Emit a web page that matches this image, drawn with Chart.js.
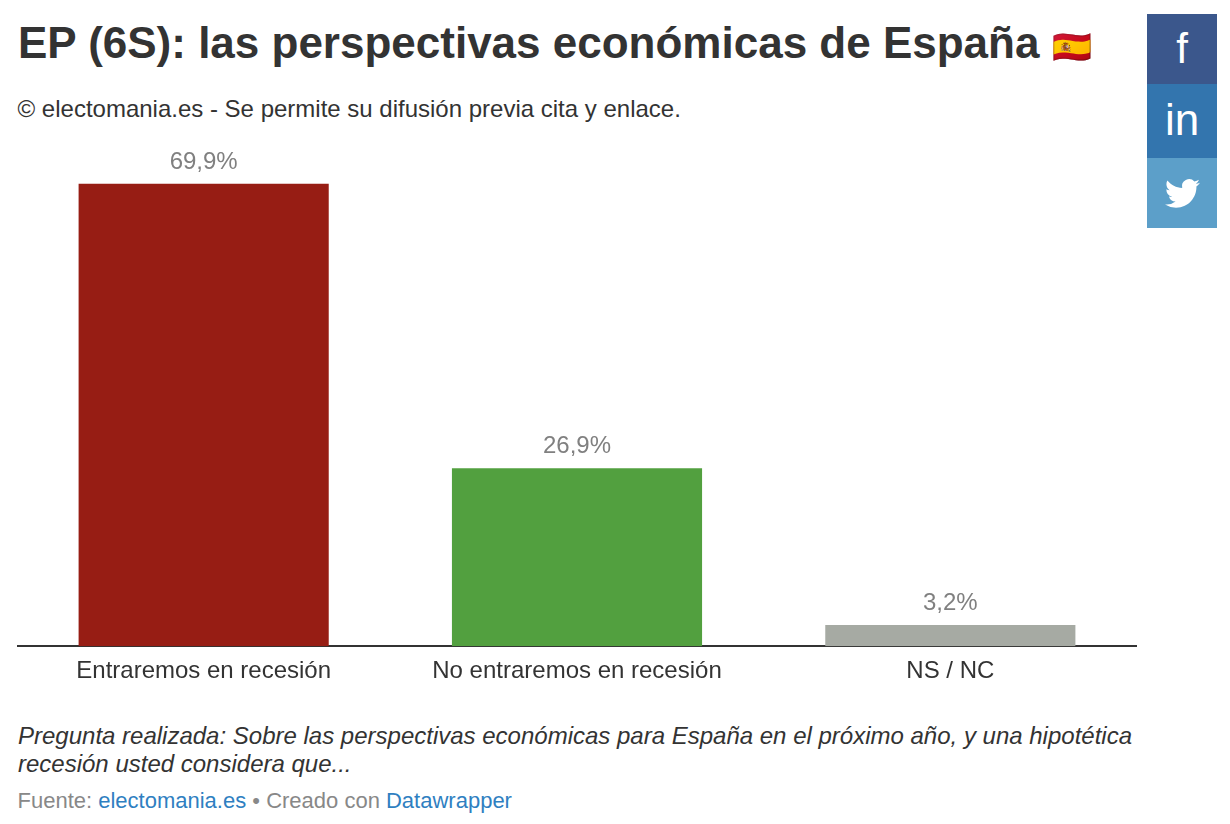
<!DOCTYPE html>
<html>
<head>
<meta charset="utf-8">
<script src="https://cdn.jsdelivr.net/npm/chart.js@4"></script>
<style>
  body { margin: 0; background: #fff; font-family: "Liberation Sans", Arial, sans-serif; color: #333; width: 1230px; height: 824px; position: relative; overflow: hidden; }
  h1 { position: absolute; left: 18px; top: 15px; margin: 0; font-size: 44px; line-height: 56px; font-weight: 700; white-space: nowrap; }
  .intro { position: absolute; left: 17.5px; top: 95px; font-size: 24px; line-height: 28px; white-space: nowrap; }
  .chart-box { position: absolute; left: 17px; top: 140px; width: 1120px; height: 557px; }
  .question { position: absolute; left: 18px; top: 722px; width: 1140px; font-size: 24px; line-height: 28px; font-style: italic; }
  .source { position: absolute; left: 17.5px; top: 787px; font-size: 22px; line-height: 28px; color: #888; white-space: nowrap; }
  .source a { color: #2f7fc1; text-decoration: none; }
  .share { position: absolute; left: 1147px; width: 70px; color: #fff; text-align: center; }
  .share svg { display: block; margin: 0 auto; }
</style>
</head>
<body>
<h1>EP (6S): las perspectivas económicas de España <span style="font-size:32px">🇪🇸</span></h1>
<div class="intro">© electomania.es - Se permite su difusión previa cita y enlace.</div>
<div class="chart-box"><canvas id="Chart"></canvas></div>
<div class="question">Pregunta realizada: Sobre las perspectivas económicas para España en el próximo año, y una hipotética recesión usted considera que...</div>
<div class="source">Fuente: <a>electomania.es</a> • Creado con <a>Datawrapper</a></div>
<div class="share" style="top:14px;height:70px;background:#3b578c;font:400 42px/70px 'Liberation Sans'">f</div>
<div class="share" style="top:84px;height:74px;background:#3375ae;font:400 44px/72px 'Liberation Sans'">in</div>
<div class="share" style="top:158px;height:70px;background:#5c9fc9">
  <svg width="35" height="35" viewBox="0 0 24 24" style="margin-top:18px"><path fill="#fff" d="M23.953 4.57a10 10 0 01-2.825.775 4.958 4.958 0 002.163-2.723c-.951.555-2.005.959-3.127 1.184a4.92 4.92 0 00-8.384 4.482C7.69 8.095 4.067 6.13 1.64 3.162a4.822 4.822 0 00-.666 2.475c0 1.71.87 3.213 2.188 4.096a4.904 4.904 0 01-2.228-.616v.06a4.923 4.923 0 003.946 4.827 4.996 4.996 0 01-2.212.085 4.936 4.936 0 004.604 3.417 9.867 9.867 0 01-6.102 2.105c-.39 0-.779-.023-1.17-.067a13.995 13.995 0 007.557 2.209c9.053 0 13.998-7.496 13.998-13.985 0-.21 0-.42-.015-.63A9.935 9.935 0 0024 4.59z"/></svg>
</div>
<script>
const categories = ["Entraremos en recesión", "No entraremos en recesión", "NS / NC"];
const values = [69.9, 26.9, 3.2];
const colors = ["#971d14", "#52a03f", "#a6aaa3"];

const ctx = document.getElementById("Chart").getContext("2d");

// etiquetas de valor encima de cada barra
const valueLabels = {
  id: "valueLabels",
  afterDatasetsDraw(chart) {
    const c = chart.ctx;
    c.save();
    c.font = "24px 'Liberation Sans'";
    c.fillStyle = "#808080";
    c.textAlign = "center";
    c.textBaseline = "alphabetic";
    chart.getDatasetMeta(0).data.forEach(function(bar, i) {
      c.fillText(values[i].toFixed(1).replace(".", ",") + "%", bar.x, bar.y - 15);
    });
    c.restore();
  }
};

new Chart(ctx, {
  type: "bar",
  data: {
    labels: categories,
    datasets: [{
      data: values,
      backgroundColor: colors,
      categoryPercentage: 0.67,
      barPercentage: 1
    }]
  },
  plugins: [valueLabels],
  options: {
    responsive: true,
    maintainAspectRatio: false,
    animation: false,
    layout: { padding: 0 },
    plugins: { legend: { display: false }, tooltip: { enabled: false } },
    scales: {
      x: {
        grid: { display: false, drawTicks: false },
        border: { color: "#333", width: 2 },
        ticks: { color: "#333", padding: 11, maxRotation: 0, font: { family: "Liberation Sans", size: 24 } }
      },
      y: {
        display: false,
        min: 0,
        max: 76.5
      }
    }
  }
});
</script>
</body>
</html>
